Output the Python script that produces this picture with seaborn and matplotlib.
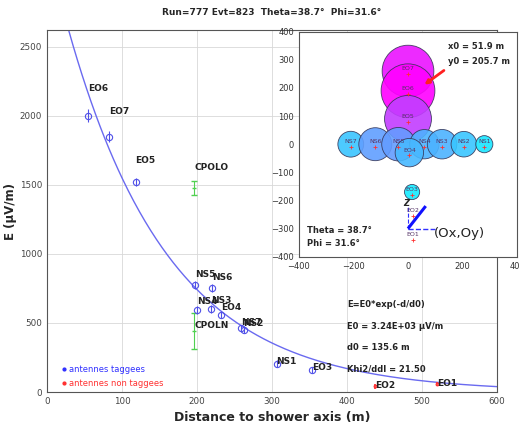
import numpy as np
import pandas as pd
import matplotlib
matplotlib.use("Agg")
import matplotlib.pyplot as plt
import seaborn as sns
from matplotlib.lines import Line2D

# ---------------- data ----------------
tag_names = ["EO6", "EO7", "EO5", "NS5", "NS6", "NS4", "NS3", "EO4", "NS7", "NS2", "NS1", "EO3"]
tag_dist = [55, 83, 118, 197, 220, 200, 219, 232, 259, 262, 306, 353]
tag_E = [2000, 1848, 1520, 775, 751, 594, 601, 558, 460, 452, 203, 159]
tag_err = [45, 40, 30, 30, 30, 30, 30, 25, 25, 25, 25, 20]

untag_names = ["EO2", "EO1"]
untag_dist = [437, 520]
untag_E = [40, 58]
untag_err = [15, 15]

cpol_names = ["CPOLO", "CPOLN"]
cpol_dist = [196, 196]
cpol_E = [1476, 440]
cpol_err = [50, 130]

E0 = 3.24e3
d0 = 135.6
khi2 = 21.50
x0 = 51.9
y0 = 205.7
theta = 38.7
phi = 31.6

map_names = ["EO7", "EO6", "EO5", "NS7", "NS6", "NS5", "NS4", "NS3", "NS2", "NS1", "EO4", "EO3"]
map_x = [0, 0, 0, -210, -120, -35, 60, 125, 205, 280, 5, 15]
map_y = [260, 190, 90, 0, 0, 0, 0, 0, 0, 0, -30, -170]
map_E = [1848, 2000, 1520, 460, 751, 775, 594, 601, 452, 203, 558, 159]

map_untag_names = ["EO2", "EO1"]
map_untag_x = [18, 18]
map_untag_y = [-245, -330]

x_ticks = [0, 100, 200, 300, 400, 500, 600]
y_ticks = [0, 500, 1000, 1500, 2000, 2500]
inset_xticks = [-400, -200, 0, 200, 400]
inset_yticks = [-400, -300, -200, -100, 0, 100, 200, 300, 400]

# ---------------- figure ----------------
sns.set_style("white")
plt.rcParams["font.family"] = ["DejaVu Sans"]

W, H = 519, 432
fig = plt.figure(figsize=(W / 100, H / 100), dpi=100)
ax = fig.add_axes([47 / W, 40 / H, 450 / W, 362 / H])

ax.set_xlim(0, 600)
ax.set_ylim(0, 2620)
ax.set_xticks(x_ticks)
ax.set_yticks(y_ticks)
ax.grid(True, color="#d8d8d8", lw=0.6)
ax.set_axisbelow(True)
for s in ax.spines.values():
    s.set_color("#555555")
    s.set_linewidth(0.8)
ax.tick_params(labelsize=6.3, colors="#444444", length=2, direction="in")

# fit curve
d_curve = np.linspace(0, 600, 400)
fit_df = pd.DataFrame({"d": d_curve, "E": E0 * np.exp(-d_curve / d0)})
sns.lineplot(data=fit_df, x="d", y="E", ax=ax, color="#6a6af0", lw=1.0)

blue = "#5050e8"
ax.errorbar(tag_dist, tag_E, yerr=tag_err, fmt="o", mfc="none", mec=blue,
            ecolor=blue, ms=4.5, mew=0.8, elinewidth=0.8, capsize=0)
ax.errorbar(untag_dist, untag_E, yerr=untag_err, fmt="o", mfc="none", mec="#ff3030",
            ecolor="#ff3030", ms=2, mew=0.8, elinewidth=1.2, capsize=0)
ax.errorbar(cpol_dist, cpol_E, yerr=cpol_err, fmt="_", color="#50d050",
            ms=3, elinewidth=0.8, capsize=2)

for n, d, e in zip(tag_names + untag_names + cpol_names,
                   tag_dist + untag_dist + cpol_dist,
                   tag_E + untag_E + cpol_E):
    ax.text(d, e * 1.1, n, fontsize=6.5, fontweight="bold", ha="left",
            va="center", color="#222222")

ax.set_xlabel("Distance to shower axis (m)", fontsize=9, fontweight="bold", labelpad=4)
ax.set_ylabel("E (\u00b5V/m)", fontsize=8.5, fontweight="bold")
ax.yaxis.set_label_coords(-0.066, 0.5)
ax.set_title(f"Run=777 Evt=823  Theta={theta}\u00b0  Phi={phi}\u00b0",
             fontsize=6.5, fontweight="bold", pad=11)

fit_lines = ["E=E0*exp(-d/d0)", f"E0 = {E0:.2E} \u00b5V/m",
             f"d0 = {d0} m", f"Khi2/ddl = {khi2:.2f}"]
for i, t in enumerate(fit_lines):
    ax.text(400, 630 - i * 154, t, fontsize=6, fontweight="bold", color="#222222",
            ha="left", va="center")

handles = [Line2D([], [], marker=".", ls="", color="#3030ff", ms=4),
           Line2D([], [], marker=".", ls="", color="#ff3030", ms=4)]
ax.legend(handles, ["antennes taggees", "antennes non taggees"], loc="lower left",
          bbox_to_anchor=(0.02, -0.005), frameon=False, fontsize=6,
          labelcolor="linecolor", handlelength=0.6, handletextpad=0.3,
          labelspacing=0.6, borderpad=0.2)

# ---------------- inset ----------------
ax2 = fig.add_axes([299 / W, (H - 256.7) / H, 218 / W, 225 / H])
ax2.set_facecolor("white")
ax2.set_xlim(-400, 400)
ax2.set_ylim(-400, 400)
ax2.set_xticks(inset_xticks)
ax2.set_yticks(inset_yticks)
ax2.tick_params(labelsize=6, colors="#333333", length=2, direction="in")
for s in ax2.spines.values():
    s.set_color("#555555")
    s.set_linewidth(0.8)

map_df = pd.DataFrame({"x": map_x, "y": map_y, "E": map_E, "name": map_names})
sns.scatterplot(data=map_df, x="x", y="y", hue="E", size="E", palette="cool",
                hue_norm=(0, 2000), size_norm=(0, 2000), sizes=(0, 1500),
                alpha=0.9, edgecolor="#333355", linewidth=0.6, legend=False, ax=ax2)
ax2.set_xlabel("")
ax2.set_ylabel("")

ax2.plot(map_x + map_untag_x, [v - 10 for v in map_y + map_untag_y], "+",
         color="#ff3030", ms=3, mew=0.6)
for n, x, y in zip(map_names + map_untag_names, map_x + map_untag_x, map_y + map_untag_y):
    ax2.text(x, y, n, fontsize=4.5, ha="center", va="bottom", color="#553366")

# shower axis projection
ax2.plot([0, 100], [-300, -300], ls="--", color="#3030ff", lw=1)
ax2.plot([0, 0], [-300, -225], ls="--", color="#3030ff", lw=0.8)
ax2.plot([0, 65], [-300, -220], color="#1010ff", lw=2.2, solid_capstyle="butt")
ax2.text(-8, -210, "Z", fontsize=6, fontweight="bold", fontstyle="italic", ha="center", va="center")
ax2.text(95, -318, "(Ox,Oy)", fontsize=9.5, ha="left", va="center", color="#222222")
ax2.annotate("", xy=(x0, y0), xytext=(140, 268),
             arrowprops=dict(arrowstyle="-|>", color="#ff2020", lw=2, mutation_scale=6))
ax2.text(145, 346, f"x0 = {x0} m", fontsize=6, fontweight="bold", ha="left", va="center")
ax2.text(148, 293, f"y0 = {y0} m", fontsize=6, fontweight="bold", ha="left", va="center")
ax2.text(-370, -306, f"Theta = {theta}\u00b0", fontsize=6, fontweight="bold", ha="left", va="center")
ax2.text(-370, -352, f"Phi = {phi}\u00b0", fontsize=6, fontweight="bold", ha="left", va="center")

fig.savefig("out.png", dpi=100)
